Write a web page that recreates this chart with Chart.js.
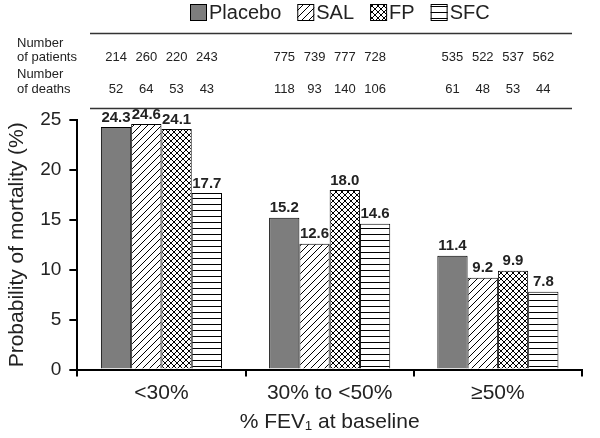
<!DOCTYPE html>
<html>
<head>
<meta charset="utf-8">
<script src="https://cdn.jsdelivr.net/npm/chart.js@4"></script>
<style>
  html, body { margin: 0; padding: 0; background: #fff; }
  #wrap { width: 600px; height: 438px; }
</style>
</head>
<body>
<div id="wrap"><canvas id="chart" width="600" height="438"></canvas></div>
<script>
// data
const groups = ['<30%', '30% to <50%', '≥50%'];
const treatments = ['Placebo', 'SAL', 'FP', 'SFC'];
const placebo = [24.3, 15.2, 11.4];
const sal = [24.6, 12.6, 9.2];
const fp = [24.1, 18.0, 9.9];
const sfc = [17.7, 14.6, 7.8];
const patients = [[214, 775, 535], [260, 739, 522], [220, 777, 537], [243, 728, 562]];
const deaths = [[52, 118, 61], [64, 93, 48], [53, 140, 53], [43, 106, 44]];
const yTicks = [0, 5, 10, 15, 20, 25];

const FONT = "'Liberation Sans', Arial, Helvetica, sans-serif";
const INK = '#222';

// fill patterns for the bars
function pattern(kind) {
  const s = kind === 'diag' ? 7 : 6;
  const c = document.createElement('canvas');
  c.width = c.height = s;
  const g = c.getContext('2d');
  g.fillStyle = '#fff';
  g.fillRect(0, 0, s, s);
  g.strokeStyle = '#000';
  g.lineWidth = 1;
  g.beginPath();
  if (kind === 'diag' || kind === 'cross') {
    g.moveTo(-1, s + 1); g.lineTo(s + 1, -1);
    g.moveTo(-1, 1); g.lineTo(1, -1);
    g.moveTo(s - 1, s + 1); g.lineTo(s + 1, s - 1);
  }
  if (kind === 'cross') {
    g.moveTo(-1, -1); g.lineTo(s + 1, s + 1);
    g.moveTo(s - 1, -1); g.lineTo(s + 1, 1);
    g.moveTo(-1, s - 1); g.lineTo(1, s + 1);
  }
  if (kind === 'horiz') {
    g.moveTo(0, 0.5); g.lineTo(s, 0.5);
  }
  g.stroke();
  return g.createPattern(c, 'repeat');
}

const fills = ['#7d7d7d', pattern('diag'), pattern('cross'), pattern('horiz')];
const series = [placebo, sal, fp, sfc];

// value labels, legend and the table of counts
const extras = {
  id: 'extras',
  afterDatasetsDraw(chart) {
    const ctx = chart.ctx;
    ctx.save();
    ctx.fillStyle = INK;
    ctx.textAlign = 'center';
    ctx.textBaseline = 'bottom';
    ctx.font = 'bold 15px ' + FONT;
    chart.data.datasets.forEach((ds, i) => {
      chart.getDatasetMeta(i).data.forEach((bar, j) => {
        ctx.fillText(ds.data[j].toFixed(1), bar.x, bar.y - 2);
      });
    });

    // legend (tight box/text spacing like the original)
    ctx.font = '20px ' + FONT;
    ctx.textAlign = 'left';
    ctx.textBaseline = 'middle';
    let lx = 190;
    chart.data.datasets.forEach(ds => {
      ctx.fillStyle = ds.backgroundColor;
      ctx.fillRect(lx, 4, 17, 17);
      ctx.strokeStyle = '#000';
      ctx.lineWidth = 1;
      ctx.strokeRect(lx + 0.5, 4.5, 16, 16);
      ctx.fillStyle = INK;
      ctx.fillText(ds.label, lx + 19, 13);
      lx += 19 + ctx.measureText(ds.label).width + 16;
    });

    // table
    ctx.font = '13px ' + FONT;
    ctx.textBaseline = 'middle';
    ctx.textAlign = 'left';
    ctx.fillText('Number', 17, 43);
    ctx.fillText('of patients', 17, 57);
    ctx.fillText('Number', 17, 74);
    ctx.fillText('of deaths', 17, 89);
    ctx.textAlign = 'center';
    chart.data.datasets.forEach((ds, i) => {
      chart.getDatasetMeta(i).data.forEach((bar, j) => {
        ctx.fillText(String(patients[i][j]), bar.x, 57);
        ctx.fillText(String(deaths[i][j]), bar.x, 89);
      });
    });
    ctx.strokeStyle = '#333';
    ctx.lineWidth = 1.5;
    ctx.beginPath();
    ctx.moveTo(90, 33.5); ctx.lineTo(572, 33.5);
    ctx.moveTo(90, 108.5); ctx.lineTo(572, 108.5);
    ctx.stroke();
    ctx.restore();
  }
};

new Chart(document.getElementById('chart'), {
  type: 'bar',
  data: {
    labels: groups,
    datasets: treatments.map((name, i) => ({
      label: name,
      data: series[i],
      backgroundColor: fills[i],
      borderColor: '#000',
      borderWidth: 1,
      barPercentage: 1,
      categoryPercentage: 0.72
    }))
  },
  options: {
    responsive: false,
    animation: false,
    layout: { padding: { top: 120, right: 18, bottom: 3, left: 5 } },
    plugins: {
      legend: { display: false },
      tooltip: { enabled: false }
    },
    scales: {
      x: {
        grid: { display: true, drawOnChartArea: false, drawTicks: true, tickLength: 7, color: '#000', lineWidth: 2 },
        border: { display: true, color: '#000', width: 2 },
        ticks: { color: INK, font: { family: FONT, size: 21 }, padding: 4 },
        title: { display: true, text: '% FEV₁ at baseline', color: INK, font: { family: FONT, size: 21 }, padding: { top: 0, bottom: 0 } }
      },
      y: {
        min: 0,
        max: 25,
        afterBuildTicks(scale) { scale.ticks = yTicks.map(v => ({ value: v })); },
        grid: { display: true, drawOnChartArea: false, drawTicks: true, tickLength: 8, color: '#000', lineWidth: 2 },
        border: { display: true, color: '#000', width: 2 },
        ticks: { color: INK, font: { family: FONT, size: 19 }, padding: 8 },
        title: { display: true, text: 'Probability of mortality (%)', color: INK, font: { family: FONT, size: 21 }, padding: { top: 0, bottom: 2 } }
      }
    }
  },
  plugins: [extras]
});
</script>
</body>
</html>
